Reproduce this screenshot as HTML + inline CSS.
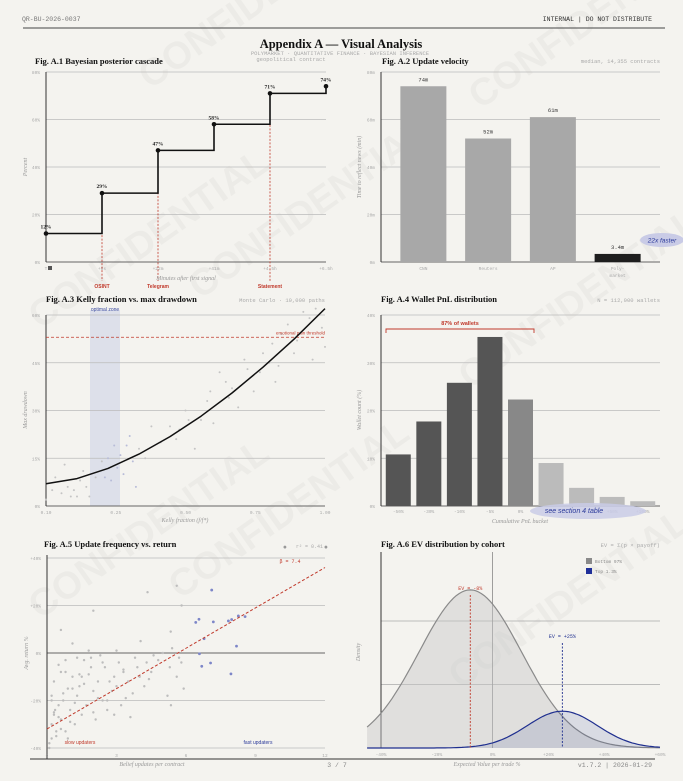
<!DOCTYPE html>
<html><head><meta charset="utf-8">
<style>
html,body{margin:0;padding:0;background:#f4f3ef;}
svg{display:block;}
.mono{font-family:"Liberation Mono",monospace;}
.serif{font-family:"Liberation Serif",serif;}
.sans{font-family:"Liberation Sans",sans-serif;}
</style></head>
<body>
<svg id="page" width="683" height="781" viewBox="0 0 683 781" xmlns="http://www.w3.org/2000/svg">
<rect x="0" y="0" width="683" height="781" fill="#f4f3ef"/>
<g id="watermarks" class="sans" font-size="38" font-weight="bold" fill="#000" fill-opacity="0.032">
<text x="150" y="90" transform="rotate(-35 150 90)">CONFIDENTIAL</text>
<text x="480" y="110" transform="rotate(-35 480 110)">CONFIDENTIAL</text>
<text x="40" y="330" transform="rotate(-35 40 330)">CONFIDENTIAL</text>
<text x="200" y="300" transform="rotate(-35 200 300)">CONFIDENTIAL</text>
<text x="470" y="390" transform="rotate(-35 470 390)">CONFIDENTIAL</text>
<text x="40" y="620" transform="rotate(-35 40 620)">CONFIDENTIAL</text>
<text x="180" y="600" transform="rotate(-35 180 600)">CONFIDENTIAL</text>
<text x="460" y="690" transform="rotate(-35 460 690)">CONFIDENTIAL</text>
</g>
<text x="22" y="21" class="mono" font-size="6.5" fill="#777">QR-BU-2026-0037</text>
<text x="652" y="21" class="mono" font-size="6.5" fill="#333" text-anchor="end">INTERNAL  |  DO NOT DISTRIBUTE</text>
<line x1="23" y1="28" x2="665" y2="28" stroke="#444" stroke-width="1"/>
<text x="341" y="48" class="serif" font-size="12.5" font-weight="bold" fill="#111" text-anchor="middle">Appendix A — Visual Analysis</text>
<text x="340" y="55" class="mono" font-size="5.5" fill="#aaa" text-anchor="middle">POLYMARKET  ·  QUANTITATIVE FINANCE  ·  BAYESIAN INFERENCE</text>
<line x1="30" y1="759" x2="655" y2="759" stroke="#333" stroke-width="1"/>
<text x="337" y="767" class="mono" font-size="6.5" fill="#888" text-anchor="middle">3 / 7</text>
<text x="652" y="767" class="mono" font-size="6.5" fill="#888" text-anchor="end">v1.7.2  |  2026-01-29</text>
<g id="charts"></g>
</svg>
<script>
// ---------- data ----------
const a1Ticks = ["T","+8s","+22m","+41m","+4.5h","+6.5h"];
const a1Posterior = [12,29,47,58,71,74];
const a1Events = ["","OSINT","Telegram","","Statement",""];
const a1YTicks = [0,20,40,60,80];

const a2Sources = ["CNN","Reuters","AP","Poly-market"];
const a2Minutes = [74,52,61,3.4];
const a2Labels = ["74m","52m","61m","3.4m"];
const a2YTicks = [0,20,40,60,80];

const a3CurveK = [0.1,0.2,0.3,0.4,0.5,0.6,0.7,0.8,0.9,1.0];
const a3CurveDD = [7,8.6,11.8,16.3,21.8,28.2,35.5,43.6,52.4,62];
const a3ScatterK = [0.1,0.12,0.13,0.15,0.16,0.17,0.18,0.19,0.2,0.21,0.22,0.23,0.24,0.26,0.28,0.29,0.3,0.31,0.32,0.33,0.34,0.35,0.36,0.37,0.38,0.39,0.4,0.42,0.44,0.47,0.5,0.52,0.53,0.55,0.56,0.58,0.6,0.62,0.63,0.64,0.66,0.68,0.7,0.72,0.74,0.75,0.77,0.79,0.8,0.82,0.84,0.85,0.86,0.88,0.9,0.91,0.93,0.95,0.97,0.99,1.0,0.96,0.83,0.69];
const a3ScatterDD = [2,5,9,4,13,6,3,5,3,8,11,6,3,9,14,9,15,8,19,12,16,10,19,22,14,6,18,15,25,20,25,21,24,30,27,18,27,33,36,26,42,39,37,31,46,43,36,42,48,45,39,44,54,57,48,52,61,59,62,56,50,46,51,34];
const a3YTicks = [0,15,30,45,60];
const a3XTicks = ["0.10","0.25","0.50","0.75","1.00"];
const a3Threshold = [53];

const a4Buckets = ["-50%","-30%","-10%","-5%","0%","+5%","+10%","+50%","+100%"];
const a4Counts = [10.8,17.7,25.8,35.4,22.3,9.0,3.8,1.9,1.0];
const a4YTicks = [0,10,20,30,40];

const a5SlowX = [0.1,0.2,0.3,0.2,0.4,0.5,0.6,0.3,0.7,0.8,0.9,1.0,1.1,0.5,0.8,1.2,1.3,1.5,1.6,1.4,1.7,1.8,2.0,2.1,1.9,2.2,2.4,2.5,2.6,2.3,2.8,2.9,3.0,3.1,3.2,3.3,3.5,3.6,3.4,3.8,3.9,4.0,4.2,4.3,4.5,4.6,4.8,5.0,5.2,5.3,5.4,5.6,5.8,5.9,0.2,0.4,0.6,0.9,1.1,1.3,0.3,0.7,1.0,1.5,1.9,2.2,2.7,3.3,0.1,0.5,0.8,1.2,1.6,2.0,2.4,0.6,1.4,2.6,3.7,4.4,4.34,5.6,5.81,2.0,0.6,5.34,4.04,1.1,5.35,5.7,1.8,3.0,0.2,0.35,2.9];
const a5SlowY = [-38,-30,-25,-18,-35,-22,-28,-12,-20,-33,-15,-24,-10,-5,-8,-30,-18,-26,-3,-14,-22,-9,-16,-28,-2,-12,-20,-6,-24,-1,-16,-10,-14,-4,-22,-8,-12,-27,-19,-2,-6,-10,-14,-4,-8,-1,-3,0,-18,-6,2,-10,-4,-15,-20,-33,-8,-36,-15,-2,-26,-17,-29,-10,-6,-19,-12,-7,-40,-27,-3,-21,-13,-25,-4,-32,-9,-20,-17,-11,25.6,28.3,20,17.8,9.7,9,5,4,-22,-2,1,1,-36,-24,-26];
const a5FastX = [6.42,6.56,7.18,7.83,7.97,8.26,8.55,6.78,7.11,8.18,6.58,6.68,7.06,7.94,10.27,12.04];
const a5FastY = [12.9,14.2,13.1,13.5,14.1,15.6,15.3,6.0,26.5,2.9,-0.3,-5.6,-4.2,-8.8,44.6,44.6];
const a5FitX = [0,12];
const a5FitY = [-32,36];
const a5YTicks = [-40,-20,0,20,40];
const a5YLabels = ["-40%","-20%","0%","+20%","+40%"];
const a5XTicks = [0,3,6,9,12];

const a6Cohorts = ["Bottom 97%","Top 1.3%"];
const a6Means = [-8,25];
const a6Sds = [18.4,12.6];
const a6Peaks = [2.49,0.58];
const a6XTicks = [-40,-20,0,20,40,60];
const a6XLabels = ["-40%","-20%","0%","+20%","+40%","+60%"];
const a6GridD = [1,2];

// ---------- helpers ----------
const NS = "http://www.w3.org/2000/svg";
const root = document.getElementById('charts');
function mk(tag, attrs, parent, txt){
  const e = document.createElementNS(NS, tag);
  for (const k in attrs) e.setAttribute(k, attrs[k]);
  if (txt !== undefined) e.textContent = txt;
  (parent || root).appendChild(e);
  return e;
}
function grp(name){
  const g = mk('g', {});
  
  
  return g;
}
const MONO = '"Liberation Mono", monospace';
const SERIF = '"Liberation Serif", serif';
const SANS = '"Liberation Sans", sans-serif';

function panelHeader(g, x, title, subX, sub){
  const t = mk('text', {x:x, y:64, 'font-family':SERIF, 'font-size':8.5, 'font-weight':'bold', fill:'#111'}, g, title);
  
  
  if (sub){
    const s = mk('text', {x:subX, y:63, 'font-family':MONO, 'font-size':5.5, fill:'#aaa', 'text-anchor':'end'}, g, sub);
    
    
  }
}
function yTitle(g, x, y, txt){
  const t = mk('text', {x:x, y:y, 'font-family':SERIF, 'font-style':'italic', 'font-size':6, fill:'#999', 'text-anchor':'middle', transform:`rotate(-90 ${x} ${y})`}, g, txt);
  
  
}
function xTitle(g, x, y, txt){
  const t = mk('text', {x:x, y:y, 'font-family':SERIF, 'font-style':'italic', 'font-size':6, fill:'#999', 'text-anchor':'middle'}, g, txt);
  
  
}
function hGrid(g, x0, x1, y, label, dark){
  const l = mk('line', {x1:x0, x2:x1, y1:y, y2:y, stroke: dark ? '#666' : '#bbb', 'stroke-width': dark ? 1 : 0.7}, g);
  
  
  const t = mk('text', {x:x0-6, y:y+2, 'font-family':MONO, 'font-size':4.5, fill:'#aaa', 'text-anchor':'end'}, g, label);
  
  
}
function xTick(g, x, y, label){
  const t = mk('text', {x:x, y:y, 'font-family':MONO, 'font-size':4.5, fill:'#aaa', 'text-anchor':'middle'}, g, label);
  
  
}
function axisL(g, x, y0, y1){
  const l = mk('line', {x1:x, x2:x, y1:y0, y2:y1, stroke:'#333', 'stroke-width':1}, g);
  
  
}

// ---------- A.1 ----------
(function(){
  const g = grp('chart-a1-posterior-cascade');
  panelHeader(g, 35, 'Fig. A.1  Bayesian posterior cascade', 0, null);
  const gc = mk('text', {x:291, y:61, 'font-family':MONO, 'font-size':5.5, fill:'#aaa', 'text-anchor':'middle'}, g, 'geopolitical contract');
  
  
  const X0=46, X1=326, Y0=262, Y1=72;
  const x = i => X0 + i*(X1-X0)/(a1Ticks.length-1);
  const y = v => Y0 - v/80*(Y0-Y1);
  a1YTicks.forEach(v => hGrid(g, X0, X1, y(v), v+'%', v===0));
  axisL(g, X0, Y1, Y0);
  a1Ticks.forEach((t,i) => xTick(g, x(i), 270, t));
  const sq = mk('rect', {x:X0+2, y:266, width:4, height:4, fill:'#555'}, g);
  
  
  a1Events.forEach((ev,i) => {
    if (!ev) return;
    const l = mk('line', {x1:x(i), x2:x(i), y1:y(a1Posterior[i]), y2:281, stroke:'#c0392b', 'stroke-width':0.8, 'stroke-dasharray':'2,1.5'}, g);
    
    
    const t = mk('text', {x:x(i), y:288, 'font-family':SANS, 'font-size':5, 'font-weight':'bold', fill:'#c0392b', 'text-anchor':'middle'}, g, ev);
    
    
  });
  let d = `M${x(0)},${y(a1Posterior[0])}`;
  for (let i=1;i<a1Posterior.length;i++) d += ` H${x(i)} V${y(a1Posterior[i])}`;
  const p = mk('path', {d:d, fill:'none', stroke:'#111', 'stroke-width':1.6}, g);
  
  
  a1Posterior.forEach((v,i) => {
    const c = mk('circle', {cx:x(i), cy:y(v), r:2.3, fill:'#111'}, g);
    
    
    const t = mk('text', {x:x(i), y:y(v)-5, 'font-family':SERIF, 'font-size':5.5, 'font-weight':'bold', fill:'#222', 'text-anchor':'middle'}, g, v+'%');
    
    
  });
  xTitle(g, 186, 280, 'Minutes after first signal');
  yTitle(g, 27, 167, 'Percent');
})();

// ---------- A.2 ----------
(function(){
  const g = grp('chart-a2-update-velocity');
  panelHeader(g, 382, 'Fig. A.2  Update velocity', 660, 'median, 14,355 contracts');
  const X0=381, X1=660, Y0=262, Y1=72;
  const y = v => Y0 - v/80*(Y0-Y1);
  const bw = (650-391)/a2Sources.length;
  const cx = i => 391 + bw*(i+0.5);
  a2YTicks.forEach(v => hGrid(g, X0, X1, y(v), v+'m', v===0));
  axisL(g, X0, Y1, Y0);
  a2Minutes.forEach((v,i) => {
    const r = mk('rect', {x:cx(i)-23, y:y(v), width:46, height:Y0-y(v), fill: i===3 ? '#1e1e1e' : '#a8a8a8'}, g);
    
    
    const t = mk('text', {x:cx(i), y:y(v)-5, 'font-family':MONO, 'font-size':5.5, fill:'#333', 'text-anchor':'middle'}, g, a2Labels[i]);
    
    
    const parts = a2Sources[i].split('-');
    parts.forEach((pt,j) => xTick(g, cx(i), 270 + j*7, pt + (j<parts.length-1 ? '-' : '')));
  });
  yTitle(g, 361, 167, 'Time to reflect news (min)');
  const e = mk('ellipse', {cx:662, cy:240, rx:22, ry:7, fill:'#c9cbe6'}, g);
  
  
  const t = mk('text', {x:662, y:242.5, 'font-family':SANS, 'font-size':6.5, 'font-style':'italic', fill:'#2b3a9a', 'text-anchor':'middle'}, g, '22x faster');
  
  
})();

// ---------- A.3 ----------
(function(){
  const g = grp('chart-a3-kelly-drawdown');
  const tt = mk('text', {x:46, y:302, 'font-family':SERIF, 'font-size':8.5, 'font-weight':'bold', fill:'#111'}, g, 'Fig. A.3  Kelly fraction vs. max drawdown');
  
  
  const st = mk('text', {x:325, y:302, 'font-family':MONO, 'font-size':5.5, fill:'#aaa', 'text-anchor':'end'}, g, 'Monte Carlo · 10,000 paths');
  
  
  const X0=46, X1=325, Y0=506, Y1=315;
  const x = k => X0 + (k-0.1)/0.9*(X1-X0);
  const y = v => Y0 - v/60*(Y0-Y1);
  const z = mk('rect', {x:90, y:Y1-5, width:30, height:Y0-Y1+5, fill:'#dde0ea'}, g);
  
  
  const zl = mk('text', {x:105, y:311, 'font-family':SANS, 'font-size':5, fill:'#3a4aa0', 'text-anchor':'middle'}, g, 'optimal zone');
  
  
  a3YTicks.forEach(v => hGrid(g, X0, X1, y(v), v+'%', v===0));
  axisL(g, X0, Y1, Y0);
  a3XTicks.forEach((t,i) => xTick(g, X0 + i*(X1-X0)/4, 514, t));
  a3ScatterK.forEach((k,i) => {
    const c = mk('circle', {cx:x(k), cy:y(a3ScatterDD[i]), r:1, fill: (k>0.28 && k<0.4) ? '#b8bcd8' : '#c4c4c4'}, g);
    
    
  });
  const th = mk('line', {x1:X0, x2:X1, y1:y(a3Threshold[0]), y2:y(a3Threshold[0]), stroke:'#c0392b', 'stroke-width':0.8, 'stroke-dasharray':'3,2'}, g);
  
  
  const tl = mk('text', {x:X1, y:y(a3Threshold[0])-3, 'font-family':SANS, 'font-size':4.5, fill:'#c0392b', 'text-anchor':'end'}, g, 'emotional pain threshold');
  
  
  let d = '';
  a3CurveK.forEach((k,i) => { d += (i ? ' L' : 'M') + x(k).toFixed(1) + ',' + y(a3CurveDD[i]).toFixed(1); });
  const p = mk('path', {d:d, fill:'none', stroke:'#111', 'stroke-width':1.5, 'stroke-linejoin':'round'}, g);
  
  
  xTitle(g, 185, 522, 'Kelly fraction (f/f*)');
  yTitle(g, 27, 410, 'Max drawdown');
})();

// ---------- A.4 ----------
(function(){
  const g = grp('chart-a4-wallet-pnl');
  const tt = mk('text', {x:381, y:302, 'font-family':SERIF, 'font-size':8.5, 'font-weight':'bold', fill:'#111'}, g, 'Fig. A.4  Wallet PnL distribution');
  
  
  const st = mk('text', {x:660, y:302, 'font-family':MONO, 'font-size':5.5, fill:'#aaa', 'text-anchor':'end'}, g, 'N = 112,000 wallets');
  
  
  const X0=381, X1=660, Y0=506, Y1=315;
  const y = v => Y0 - v/40*(Y0-Y1);
  const bw = (658-383)/a4Buckets.length;
  const cx = i => 383 + bw*(i+0.5);
  a4YTicks.forEach(v => hGrid(g, X0, X1, y(v), v+'%', v===0));
  axisL(g, X0, Y1, Y0);
  a4Counts.forEach((v,i) => {
    const r = mk('rect', {x:cx(i)-12.5, y:y(v), width:25, height:Y0-y(v), fill: i<4 ? '#555' : (i===4 ? '#888' : '#bbb')}, g);
    
    
    xTick(g, cx(i), 513, a4Buckets[i]);
  });
  const b = mk('path', {d:`M386,333 V329 H534 V333`, fill:'none', stroke:'#c0392b', 'stroke-width':0.9}, g);
  
  
  const bl = mk('text', {x:460, y:325, 'font-family':SANS, 'font-size':5.5, 'font-weight':'bold', fill:'#c0392b', 'text-anchor':'middle'}, g, '87% of wallets');
  
  
  const e = mk('ellipse', {cx:588, cy:511, rx:58, ry:8, fill:'#c9cbe6', 'fill-opacity':0.85}, g);
  
  
  const t = mk('text', {x:574, y:513, 'font-family':SANS, 'font-size':7, 'font-style':'italic', fill:'#2b3a9a', 'text-anchor':'middle'}, g, 'see section 4 table');
  
  
  xTitle(g, 520, 523, 'Cumulative PnL bucket');
  yTitle(g, 361, 410, 'Wallet count (%)');
})();

// ---------- A.5 ----------
(function(){
  const g = grp('chart-a5-frequency-return');
  const tt = mk('text', {x:44, y:547, 'font-family':SERIF, 'font-size':8.5, 'font-weight':'bold', fill:'#111'}, g, 'Fig. A.5  Update frequency vs. return');
  
  
  const X0=47, X1=325;
  const x = u => X0 + u/12*(X1-X0);
  const y = r => 653 - r*2.375;
  a5YTicks.forEach((v,i) => hGrid(g, X0, X1, y(v), a5YLabels[i], v===0));
  axisL(g, X0, 555, 759);
  a5XTicks.forEach(v => xTick(g, x(v), 757, String(v)));
  a5SlowX.forEach((u,i) => {
    const c = mk('circle', {cx:x(u), cy:y(a5SlowY[i]), r:1.2, fill:'#bdbdbd'}, g);
    
    
  });
  a5FastX.forEach((u,i) => {
    const c = mk('circle', {cx:x(u), cy:y(a5FastY[i]), r:1.4, fill: u>10 ? '#999' : '#7d86c8'}, g);
    
    
  });
  const f = mk('line', {x1:x(a5FitX[0]), y1:y(a5FitY[0]), x2:x(a5FitX[1]), y2:y(a5FitY[1]), stroke:'#c0392b', 'stroke-width':1, 'stroke-dasharray':'3,2'}, g);
  
  
  const bt = mk('text', {x:290, y:563, 'font-family':MONO, 'font-size':5, fill:'#c0392b', 'text-anchor':'middle'}, g, 'β = 7.4');
  
  
  const r2 = mk('text', {x:323, y:548, 'font-family':MONO, 'font-size':5, fill:'#aaa', 'text-anchor':'end'}, g, 'r² = 0.41');
  
  
  const sl = mk('text', {x:80, y:744, 'font-family':SANS, 'font-size':5, fill:'#c0392b', 'text-anchor':'middle'}, g, 'slow updaters');
  
  
  const fl = mk('text', {x:258, y:744, 'font-family':SANS, 'font-size':5, fill:'#2b3a9a', 'text-anchor':'middle'}, g, 'fast updaters');
  
  
  xTitle(g, 152, 766, 'Belief updates per contract');
  yTitle(g, 28, 653, 'Avg. return %');
})();

// ---------- A.6 ----------
(function(){
  const g = grp('chart-a6-ev-distribution');
  const tt = mk('text', {x:381, y:547, 'font-family':SERIF, 'font-size':8.5, 'font-weight':'bold', fill:'#111'}, g, 'Fig. A.6  EV distribution by cohort');
  
  
  const st = mk('text', {x:660, y:547, 'font-family':MONO, 'font-size':5.5, fill:'#aaa', 'text-anchor':'end'}, g, 'EV = Σ(p × payoff)');
  
  
  const x = e => 381 + (e+40)*2.79;
  const y = d => 748 - d*63.5;
  a6GridD.forEach(d => {
    const l = mk('line', {x1:381, x2:660, y1:y(d), y2:y(d), stroke:'#aaa', 'stroke-width':0.7}, g);
    
    
  });
  axisL(g, 381, 552, 748);
  const z = mk('line', {x1:x(0), x2:x(0), y1:552, y2:748, stroke:'#888', 'stroke-width':0.8}, g);
  
  
  const fills = ['rgba(200,200,200,0.45)','rgba(40,60,150,0.13)'];
  const strokes = ['#8a8a8a','#1f2f8f'];
  a6Means.forEach((m,ci) => {
    let d = `M${x(-45)},${y(0)}`;
    for (let e=-45; e<=60; e+=1){
      const v = a6Peaks[ci]*Math.exp(-((e-m)**2)/(2*a6Sds[ci]**2));
      d += ` L${x(e).toFixed(1)},${y(v).toFixed(1)}`;
    }
    const area = mk('path', {d:d + ` L${x(60)},${y(0)} Z`, fill:fills[ci], stroke:'none'}, g);
    
    
    const line = mk('path', {d:d.replace(/^M[^L]*L/, 'M'), fill:'none', stroke:strokes[ci], 'stroke-width':1.2}, g);
    
    
  });
  const mcol = ['#c0392b','#1f2f8f'];
  a6Means.forEach((m,ci) => {
    const top = ci ? 643 : 595;
    const l = mk('line', {x1:x(m), x2:x(m), y1:top, y2:748, stroke:mcol[ci], 'stroke-width':0.9, 'stroke-dasharray':'2,1.5'}, g);
    
    
    const t = mk('text', {x:x(m), y:top-5, 'font-family':MONO, 'font-size':5, fill:mcol[ci], 'text-anchor':'middle'}, g, 'EV = ' + (m>0?'+':'') + m + '%');
    
    
  });
  a6XTicks.forEach((v,i) => xTick(g, x(v), 756, a6XLabels[i]));
  const lc = ['#8a8a8a','#1f2f99'];
  a6Cohorts.forEach((c,i) => {
    const r = mk('rect', {x:586, y:558+i*10, width:6, height:6, fill:lc[i]}, g);
    
    
    const t = mk('text', {x:595, y:563+i*10, 'font-family':MONO, 'font-size':4.5, fill:'#888'}, g, c);
    
    
  });
  xTitle(g, 487, 766, 'Expected Value per trade %');
  yTitle(g, 360, 652, 'Density');
})();
</script>
</body></html>
